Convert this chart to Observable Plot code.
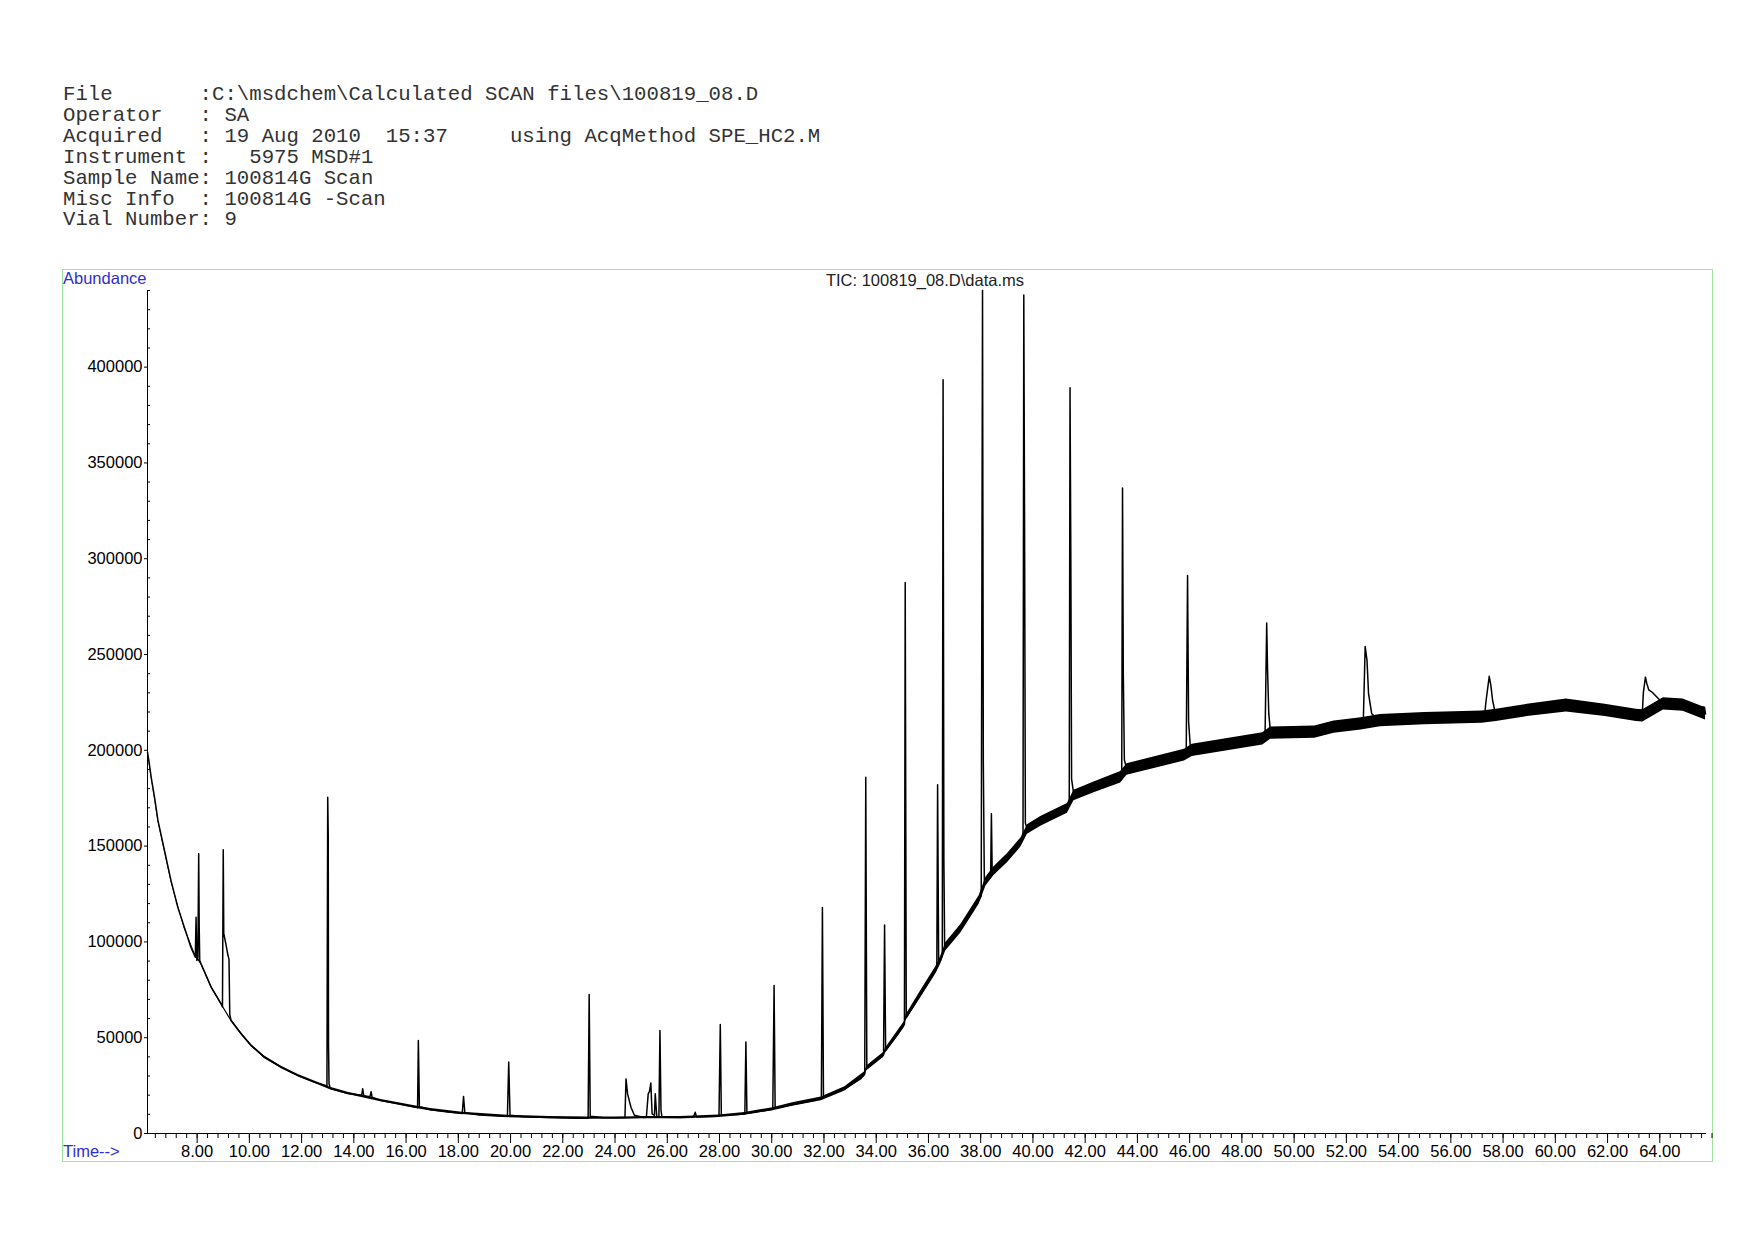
<!DOCTYPE html>
<html><head><meta charset="utf-8">
<script src="https://cdn.jsdelivr.net/npm/d3@7"></script>
<script src="https://cdn.jsdelivr.net/npm/@observablehq/plot@0.6"></script>
<style>
html,body{margin:0;padding:0;background:#fff}
body{width:1754px;height:1240px;position:relative;overflow:hidden}
#hdr{position:absolute;left:63px;top:85px;font-family:"Liberation Mono",monospace;font-size:20.7px;line-height:20.9px;white-space:pre;color:#333}
#box{position:absolute;left:62px;top:269px;width:1651px;height:893px;border:1.5px solid #9fe39f;box-sizing:border-box}
.lbl{position:absolute;font-family:"Liberation Sans",Arial,sans-serif;font-size:16.5px;line-height:18px;white-space:pre}
.blue{color:#2e2ed6}
#chart{position:absolute;left:0;top:260px}
</style></head>
<body>
<div id="hdr"></div>
<div id="box"></div>
<div id="chart"></div>
<script>
// ---- header text ----
const headerLines = [
  "File       :C:\\msdchem\\Calculated SCAN files\\100819_08.D",
  "Operator   : SA",
  "Acquired   : 19 Aug 2010  15:37     using AcqMethod SPE_HC2.M",
  "Instrument :   5975 MSD#1",
  "Sample Name: 100814G Scan",
  "Misc Info  : 100814G -Scan",
  "Vial Number: 9"
];
const chartTitle = "TIC: 100819_08.D\\data.ms";
const yLabel = "Abundance";
const xLabel = "Time-->";

// ---- axis ticks ----
const xTicks = [8,10,12,14,16,18,20,22,24,26,28,30,32,34,36,38,40,42,44,46,48,50,52,54,56,58,60,62,64];
const yTicks = [0,50000,100000,150000,200000,250000,300000,350000,400000];
const yMinor = [10000,20000,30000,40000,60000,70000,80000,90000,110000,120000,130000,140000,160000,170000,180000,190000,210000,220000,230000,240000,260000,270000,280000,290000,310000,320000,330000,340000,360000,370000,380000,390000,410000,420000,430000,440000];

// ---- trace (time min, abundance) ----
const traceEarly = [[6.10,199000],[6.17,193000],[6.24,186000],[6.37,175500],[6.50,163400],[6.75,147700],[7.00,132000],[7.26,118100],[7.51,107700],[7.76,97200],[7.93,92000],[7.96,112900],[7.99,90300],[8.03,92000],[8.06,146000],[8.08,107700],[8.10,90300],[8.15,88600],[8.54,76400],[8.92,67700],[8.97,66000],[9.00,148100],[9.02,104400],[9.10,99000],[9.18,93000],[9.22,91000],[9.25,62000],[9.30,59000],[9.68,52200],[10.07,45900],[10.58,39800],[11.21,34600],[11.85,30300],[12.49,26800],[12.97,24800],[13.00,175500],[13.02,155500],[13.03,47000],[13.05,26000],[13.10,23500]];
const traceMid = [[13.77,20900],[14.30,20000],[14.34,23300],[14.38,19700],[14.62,19200],[14.66,21800],[14.70,18900],[15.04,17200],[15.68,15600],[16.38,13700],[16.44,13500],[16.47,48500],[16.51,14000],[16.95,12400],[17.60,11200],[18.15,10500],[18.20,19300],[18.25,10800],[18.80,9600],[19.88,8900],[19.93,37300],[19.98,9500],[20.50,8800],[21.50,8300],[22.50,8000],[22.97,8000],[23.01,72600],[23.05,9000],[23.50,8300],[24.00,8200],[24.38,8500],[24.42,28500],[24.48,20700],[24.61,13700],[24.74,9500],[25.10,8300],[25.20,8500],[25.27,20700],[25.32,22000],[25.37,26300],[25.42,10300],[25.51,9500],[25.54,20700],[25.60,8500],[25.68,8700],[25.72,53800],[25.76,12000],[25.80,8500],[26.50,8300],[27.00,8500],[27.07,11100],[27.12,8600],[27.98,9000],[28.03,56900],[28.07,9500],[28.50,9800],[28.97,10200],[29.01,47700],[29.05,10500],[29.50,11500],[30.04,12700],[30.09,77300],[30.13,13200]];
const traceRise = [[30.80,15100],[31.50,17000],[31.90,18100],[31.94,117900],[31.98,19500],[32.80,23300],[33.40,28500],[33.56,31000],[33.60,186000],[33.64,34000],[34.00,38100],[34.28,41000],[34.32,108800],[34.36,43300],[34.80,51200],[35.08,57000],[35.11,287600],[35.15,60600],[35.71,72800],[36.28,85100],[36.32,87000],[36.35,182000],[36.39,90000],[36.47,90500],[36.53,93000],[36.56,393400],[36.59,143800],[36.62,97000],[36.66,97400],[37.24,106900],[37.94,121900],[38.02,124000],[38.07,440000],[38.10,194200],[38.14,131000],[38.20,131500],[38.38,134000],[38.41,166900],[38.44,136000],[38.51,136900],[39.03,143800],[39.54,151900],[39.62,154000],[39.65,437600],[39.68,317000],[39.71,162000],[39.79,158700],[40.30,162900],[41.32,169700],[41.39,172000],[41.42,389300],[41.45,303400],[41.48,185000],[41.57,176400],[42.34,180600],[43.00,183500],[43.36,186000]];
const traceLate = [[43.40,190000],[43.43,336900],[43.46,240000],[43.50,195000],[43.60,190000],[44.70,193500],[45.80,197500],[45.87,201000],[45.92,291300],[45.96,215000],[46.02,203000],[46.10,200000],[47.50,203000],[48.80,206000],[48.89,210000],[48.95,266400],[48.98,243400],[49.03,219000],[49.10,209000],[50.79,209500],[51.53,212100],[52.57,213800],[52.65,216000],[52.72,254200],[52.79,246900],[52.85,229500],[52.97,219100],[53.30,215500],[55.00,216500],[57.20,217300],[57.28,217000],[57.35,226000],[57.47,238600],[57.53,234000],[57.60,226000],[57.72,218200],[58.93,220800],[60.42,223400],[61.91,220800],[63.10,218200],[63.33,219000],[63.37,230000],[63.45,238200],[63.50,235000],[63.58,231500],[63.70,230400],[64.14,224300],[64.89,223600],[65.71,222500],[65.75,219000]];

// ---- baseline noise envelope (time, low, high) ----
const noiseBand = [[6.10,198400,199600],[6.50,162900,164100],[7.00,131400,132600],[7.50,107100,108300],[7.90,93400,94600],[8.15,88000,89200],[8.54,75800,77000],[8.92,67100,68300],[9.30,58400,59600],[9.68,51600,52800],[10.07,45300,46500],[10.58,39200,40400],[11.21,34000,35200],[11.85,29700,30900],[12.49,26200,27400],[13.10,22900,24100],[13.77,20300,21500],[15.04,16600,17800],[16.38,13100,14300],[16.95,11800,13000],[18.15,9900,11100],[19.88,8300,9500],[21.50,7700,8900],[22.97,7400,8600],[24.35,7400,8600],[25.10,7700,8900],[26.50,7700,8900],[27.98,8400,9600],[28.97,9500,10900],[30.04,11900,13500],[30.80,14200,16000],[31.90,17100,19100],[32.80,22200,24400],[33.56,29800,32200],[33.64,32800,35200],[34.28,39700,42300],[34.36,42000,44600],[35.08,55500,58500],[35.15,59100,62100],[35.71,71000,74600],[36.28,83200,87000],[36.47,88500,92500],[36.66,95300,99500],[37.24,104700,109100],[37.94,119700,124100],[38.20,129200,133800],[38.51,134600,139200],[39.03,141400,146200],[39.54,149500,154300],[39.79,156200,161200],[40.30,160400,165400],[41.32,167100,172300],[41.57,173700,179100],[42.34,177800,183400],[43.36,183000,189000],[43.60,187000,193000],[45.80,194400,200600],[46.10,196800,203200],[48.80,202800,209200],[49.10,205800,212200],[50.79,206300,212700],[51.53,208900,215300],[52.57,210600,217000],[53.30,212300,218700],[55.00,213300,219700],[57.20,214100,220500],[57.74,215000,221400],[58.93,217600,224000],[60.42,220000,226800],[61.91,217600,224000],[63.10,215000,221400],[63.35,214800,221200],[64.14,221100,227500],[64.89,220400,226800],[65.75,215800,222200]];

const trace = [...traceEarly, ...traceMid, ...traceRise, ...traceLate].map(([t, v]) => ({t, v}));
const band = noiseBand.map(([t, lo, hi]) => ({t, lo, hi}));

document.getElementById("hdr").textContent = headerLines.join("\n");

const chart = Plot.plot({
  width: 1754,
  height: 920,
  marginLeft: 147,
  marginRight: 49,
  marginTop: 30,
  marginBottom: 47,
  style: {fontFamily: "'Liberation Sans', Arial, sans-serif", fontSize: "16.5px", color: "#000", background: "transparent", overflow: "visible"},
  x: {domain: [6.1, 65.75], label: null},
  y: {domain: [0, 440000], label: null},
  marks: [
    Plot.areaY(band, {x: "t", y1: "lo", y2: "hi", fill: "#000"}),
    Plot.line(trace, {x: "t", y: "v", stroke: "#000", strokeWidth: 1.5}),
    Plot.frame({anchor: "left", stroke: "#000"}),
    Plot.frame({anchor: "bottom", stroke: "#000"}),
    Plot.axisX({interval: 0.4, tickSize: 5, text: null, label: null}),
    Plot.axisX({ticks: xTicks, tickSize: 10, tickPadding: 2, tickFormat: d => d.toFixed(2), label: null}),
    Plot.axisY({ticks: yMinor, tickSize: -3, text: null, label: null}),
    Plot.axisY({ticks: yTicks, tickSize: 3, tickPadding: 2, tickFormat: d => String(d), label: null})
  ]
});
document.getElementById("chart").appendChild(chart);

function addLabel(text, cls, css) {
  const d = document.createElement("div");
  d.className = "lbl " + cls;
  d.textContent = text;
  Object.assign(d.style, css);
  document.body.appendChild(d);
  return d;
}
addLabel(yLabel, "blue", {left: "63px", top: "269px"});
addLabel(xLabel, "blue", {left: "63px", top: "1142px"});
const tl = addLabel(chartTitle, "", {left: "0px", top: "271px", color: "#222"});
tl.style.left = (925 - tl.getBoundingClientRect().width / 2) + "px";
</script>
</body></html>
